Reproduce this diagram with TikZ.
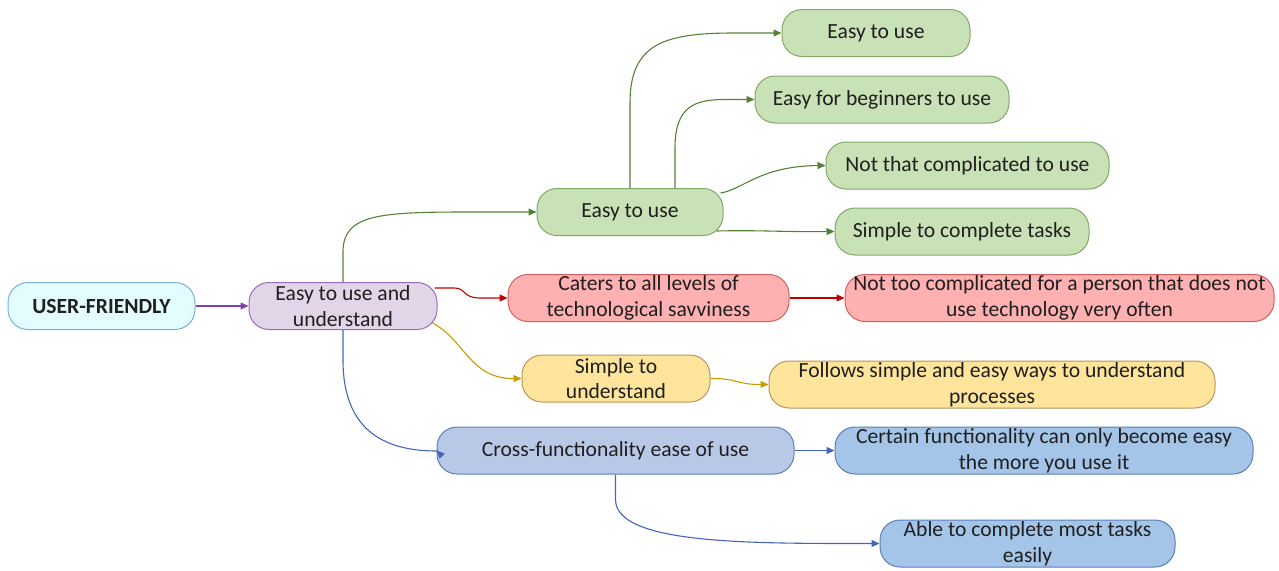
\documentclass[tikz,border=0pt]{standalone}
\usepackage{fontspec}
\setmainfont{Carlito}
\usetikzlibrary{arrows.meta}
\definecolor{ufFill}{HTML}{E3FDFF}\definecolor{ufLine}{HTML}{7BAFD4}
\definecolor{puFill}{HTML}{E1D5E7}\definecolor{puLine}{HTML}{9B6CB8}\definecolor{puArr}{HTML}{7E3FB0}
\definecolor{grFill}{HTML}{C9E1B6}\definecolor{grLine}{HTML}{82A866}\definecolor{grArr}{HTML}{548235}
\definecolor{rdFill}{HTML}{FFB0B0}\definecolor{rdLine}{HTML}{D06060}\definecolor{rdArr}{HTML}{C00000}
\definecolor{ylFill}{HTML}{FFE59C}\definecolor{ylLine}{HTML}{B8955A}\definecolor{ylArr}{HTML}{C89B00}
\definecolor{bdFill}{HTML}{B8C9E8}\definecolor{blFill}{HTML}{A4C5E8}\definecolor{blLine}{HTML}{5A7FB8}\definecolor{blArr}{HTML}{4464C0}
\begin{document}
\begin{tikzpicture}[x=1pt,y=-1pt,
  box/.style={draw,rounded corners=20pt,line width=1pt,minimum height=47pt,
    inner sep=0pt,align=center,font=\fontsize{21.6}{25.5}\selectfont,text=black!88},
  link/.style={line width=1.1pt,-{Triangle[length=8pt,width=7pt]}},
  uf/.style={box,fill=ufFill,draw=ufLine,font=\fontsize{21.6}{25.5}\selectfont\bfseries},
  pu/.style={box,fill=puFill,draw=puLine},
  gr/.style={box,fill=grFill,draw=grLine},
  rd/.style={box,fill=rdFill,draw=rdLine},
  yl/.style={box,fill=ylFill,draw=ylLine},
  bd/.style={box,fill=bdFill,draw=blLine},
  bl/.style={box,fill=blFill,draw=blLine}]
\useasboundingbox (0,0) rectangle (1279,570);

% nodes
\node[uf,minimum width=187pt] (uf) at (101.5,306) {USER-FRIENDLY};
\node[pu,minimum width=188pt] (pu) at (343,306) {Easy to use and\\understand};
\node[gr,minimum width=186pt] (g0) at (630,212) {Easy to use};
\node[gr,minimum width=188pt] (g1) at (876,33) {Easy to use};
\node[gr,minimum width=254pt] (g2) at (882,99.5) {Easy for beginners to use};
\node[gr,minimum width=283pt] (g3) at (967.5,165.5) {Not that complicated to use};
\node[gr,minimum width=254pt] (g4) at (962,231.5) {Simple to complete tasks};
\node[rd,minimum width=281pt] (r1) at (648.5,298) {Caters to all levels of\\technological savviness};
\node[rd,minimum width=429pt] (r2) at (1059.5,298) {Not too complicated for a person that does not\\use technology very often};
\node[yl,minimum width=188pt] (y1) at (616,378.5) {Simple to\\understand};
\node[yl,minimum width=446pt] (y2) at (992,384.5) {Follows simple and easy ways to understand\\processes};
\node[bd,minimum width=357pt] (b1) at (615.5,450.5) {Cross-functionality ease of use};
\node[bl,minimum width=418pt] (b2) at (1044,450.5) {Certain functionality can only become easy\\the more you use it};
\node[bl,minimum width=295pt] (b3) at (1027.5,543.5) {Able to complete most tasks\\easily};

% connectors
\draw[link,puArr] (uf.east) -- (pu.west);

\draw[link,grArr] (pu.north) -- ++(0,-30) .. controls +(0,-38) and (380,212) .. (470,212) -- (g0.west);
\draw[link,grArr] (g0.north) -- ++(0,-85) .. controls +(0,-60) and (665,33) .. (735,33) -- (g1.west);
\draw[link,grArr] ([xshift=45pt]g0.north) -- ++(0,-40) .. controls +(0,-42) and (695,99.5) .. (725,99.5) -- (g2.west);
\draw[link,grArr] ([xshift=-3pt,yshift=-5pt]g0.north east) .. controls (742,190) and (760,166) .. (g3.west);
\draw[link,grArr] ([xshift=-7pt,yshift=5pt]g0.south east) .. controls (760,230) and (780,232) .. (g4.west);

\draw[link,rdArr] ([xshift=-3pt,yshift=-6pt]pu.north east) -- ++(20,0) .. controls +(12,0) and (462,298) .. (480,298) -- (r1.west);
\draw[link,rdArr] (r1.east) -- (r2.west);

\draw[link,ylArr] ([xshift=-5pt,yshift=7pt]pu.south east) .. controls (465,340) and (470,379) .. (y1.west);
\draw[link,ylArr] (y1.east) .. controls (740,378.5) and (735,384.5) .. (y2.west);

\draw[link,blArr] (pu.south) -- ++(0,30) .. controls +(0,75) and (390,451) .. (437,451) -- (b1.west);
\draw[link,blArr] (b1.east) -- (b2.west);
\draw[link,blArr] (b1.south) -- ++(0,25) .. controls +(0,45) and (750,543.5) .. (b3.west);
\end{tikzpicture}
\end{document}
